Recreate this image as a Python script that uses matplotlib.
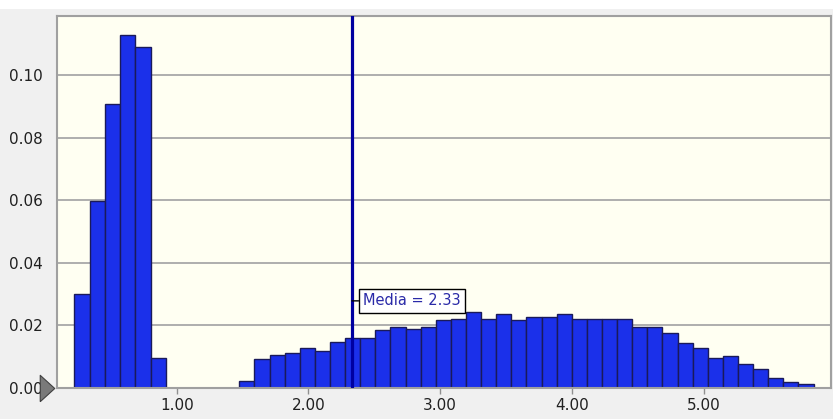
import matplotlib
matplotlib.use('Agg')
import matplotlib.pyplot as plt
from matplotlib.patches import Rectangle
import numpy as np

# --- [Data] ---
# first cluster of bins (left mode)
group1_start = 0.223
group1_width = 0.1157
group1_heights = [0.0300, 0.0598, 0.0908, 0.1129, 0.1092, 0.0096]

# second cluster of bins (wide right mode)
group2_start = 1.475
group2_width = 0.1147
group2_heights = [0.0022, 0.0091, 0.0106, 0.0112, 0.0128, 0.0117, 0.0147, 0.0159,
                  0.0159, 0.0185, 0.0195, 0.0189, 0.0194, 0.0217, 0.0221, 0.0242,
                  0.0221, 0.0237, 0.0217, 0.0226, 0.0226, 0.0237, 0.0220, 0.0220,
                  0.0220, 0.0220, 0.0195, 0.0195, 0.0175, 0.0144, 0.0127, 0.0095,
                  0.0100, 0.0075, 0.0059, 0.0032, 0.0017, 0.0011]

mean_value = 2.33
mean_label = 'Media = 2.33'
mean_label_y = 0.0278

x_ticks = [1, 2, 3, 4, 5]
y_ticks = [0.00, 0.02, 0.04, 0.06, 0.08, 0.10]
# ---------------------

BAR_COLOR = '#1b30ea'
BAR_EDGE = '#1a1a5a'
AX_BG = '#fffff2'
FIG_BG = '#f0f0f0'
GRID_COLOR = '#a8a8a8'

plt.rcParams['font.family'] = 'DejaVu Sans'

fig = plt.figure(figsize=(8.33, 4.19), dpi=100, facecolor=FIG_BG)
# white strip on top of the window
fig.patches.append(Rectangle((0, 0.978), 1, 0.022, transform=fig.transFigure,
                             facecolor='white', edgecolor='none', zorder=0))
ax = fig.add_axes([0.069, 0.0747, 0.9286, 0.8871])
ax.set_facecolor(AX_BG)

# histogram bars
lefts1 = group1_start + group1_width * np.arange(len(group1_heights))
lefts2 = group2_start + group2_width * np.arange(len(group2_heights))
ax.bar(lefts1, group1_heights, width=group1_width, align='edge',
       color=BAR_COLOR, edgecolor=BAR_EDGE, linewidth=1.0, zorder=2)
ax.bar(lefts2, group2_heights, width=group2_width, align='edge',
       color=BAR_COLOR, edgecolor=BAR_EDGE, linewidth=1.0, zorder=2)

# mean line + label
ax.axvline(mean_value, color='#0000a0', linewidth=2.3, zorder=3)
ax.annotate(mean_label, xy=(mean_value, mean_label_y), xytext=(11.5, 0),
            textcoords='offset pixels', ha='left', va='center',
            fontsize=10.5, color='#2a2aa8', zorder=4,
            bbox=dict(boxstyle='square,pad=0.3', facecolor='white',
                      edgecolor='black', linewidth=1.0),
            arrowprops=dict(arrowstyle='-', color='black', lw=1.0,
                            shrinkA=0, shrinkB=0))

# axes / grid
ax.set_xlim(0.095, 5.966)
ax.set_ylim(0, 0.119)
ax.set_xticks(x_ticks)
ax.set_xticklabels([f'{v:.2f}' for v in x_ticks])
ax.set_yticks(y_ticks)
ax.set_yticklabels([f'{v:.2f}' for v in y_ticks])
ax.yaxis.grid(True, color=GRID_COLOR, linewidth=1.3, zorder=0)
ax.set_axisbelow(True)
ax.tick_params(axis='y', length=0, pad=10.5, labelsize=11, labelcolor='#202020')
ax.tick_params(axis='x', length=4.5, width=1, color='#909090', pad=3,
               labelsize=11, labelcolor='#202020')
for s in ax.spines.values():
    s.set_color('#a0a0a0')
    s.set_linewidth(1.5)

# grey triangle marker at the zero line
tri = [(-0.55, -1), (0.55, 0), (-0.55, 1), (-0.55, -1)]
ax.plot([-0.0136], [0], marker=tri, markersize=19, color='#7a7a7a',
        markeredgecolor='#404040', markeredgewidth=0.8,
        transform=ax.get_yaxis_transform(), clip_on=False, zorder=5)

fig.savefig('out.png', dpi=100, facecolor=FIG_BG)
